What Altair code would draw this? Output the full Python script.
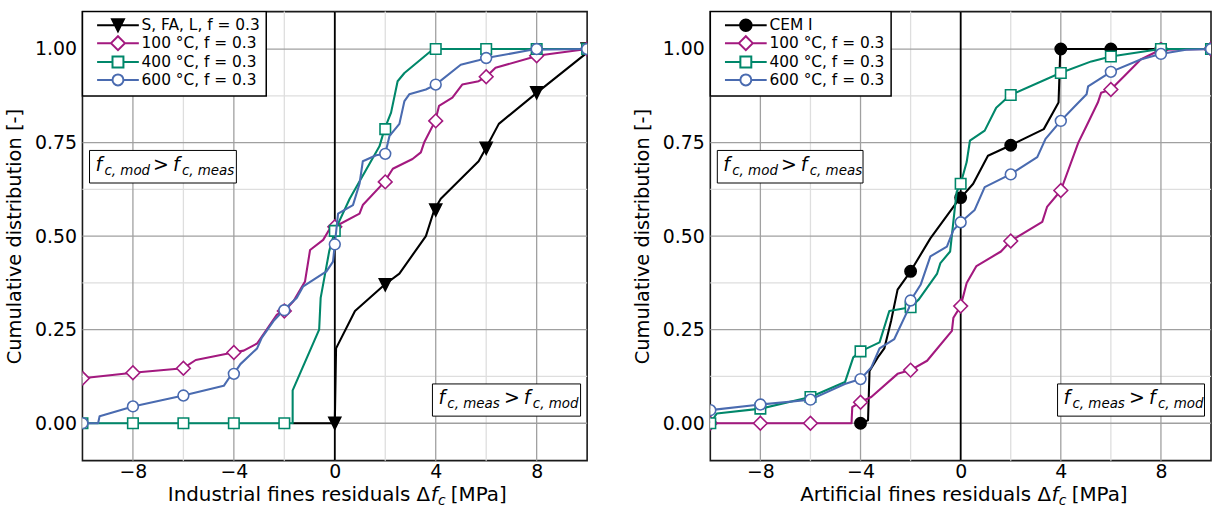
import altair as alt
import pandas as pd

# ---------------- data ----------------
LEFT_NAMES = ["S, FA, L, f = 0.3", "100 °C, f = 0.3", "400 °C, f = 0.3", "600 °C, f = 0.3"]
RIGHT_NAMES = ["CEM I", "100 °C, f = 0.3", "400 °C, f = 0.3", "600 °C, f = 0.3"]

# left panel (industrial fines)
L_black_x = [-1.67, 0.0, 0.05, 0.8, 1.97, 2.56, 3.61, 3.94, 4.2, 5.7, 5.97, 6.5, 8.0, 9.9, 10.0]
L_black_y = [0.0, 0.0, 0.2, 0.3, 0.37, 0.40, 0.50, 0.57, 0.60, 0.70, 0.733, 0.80, 0.883, 0.985, 1.0]
L_black_mx = [0, 2, 4, 6, 8, 10]
L_black_my = [0.0, 0.37, 0.57, 0.735, 0.883, 1.0]

L_mag_x = [-10, -8, -6, -5.51, -4.03, -3.61, -3.08, -2.3, -2.0, -1.64, -1.18, -0.98, -0.46, -0.2, 0.0,
           0.98, 1.11, 1.97, 2.3, 3.08, 3.41, 3.54, 3.98, 4.13, 4.66, 5.05, 5.7, 6.0, 6.37, 7.94, 8.0, 10.0]
L_mag_y = [0.12, 0.135, 0.147, 0.169, 0.189, 0.194, 0.213, 0.29, 0.30, 0.326, 0.379, 0.463, 0.49, 0.52, 0.525,
           0.56, 0.583, 0.645, 0.68, 0.706, 0.724, 0.75, 0.808, 0.848, 0.87, 0.905, 0.914, 0.926, 0.95, 0.98, 0.982, 1.0]
L_mag_mx = [-10, -8, -6, -4, -2, 0, 2, 4, 6, 8, 10]
L_mag_my = [0.12, 0.135, 0.147, 0.189, 0.30, 0.525, 0.645, 0.808, 0.926, 0.982, 1.0]

L_grn_x = [-10, -1.67, -1.67, -0.62, -0.56, -0.22, 0.0, 0.59, 1.77, 1.97, 2.23, 2.49, 2.76, 3.87, 4.0, 10.0]
L_grn_y = [0.0, 0.0, 0.088, 0.25, 0.335, 0.46, 0.514, 0.60, 0.74, 0.786, 0.83, 0.914, 0.936, 0.998, 1.0, 1.0]
L_grn_mx = [-10, -8, -6, -4, -2, 0, 2, 4, 6, 8, 10]
L_grn_my = [0.0, 0.0, 0.0, 0.0, 0.0, 0.514, 0.786, 1.0, 1.0, 1.0, 1.0]

L_blu_x = [-10, -9.38, -9.32, -8, -6, -4.4, -4.13, -4.0, -3.74, -3.08, -2.89, -2.43, -2.03, -1.51, -1.25, -0.33,
           -0.07, 0.0, 0.13, 0.72, 0.98, 1.11, 1.64, 2.0, 2.17, 2.56, 2.76, 2.95, 3.61, 4.0, 4.99, 5.7, 6.0, 7.8, 10.0]
L_blu_y = [0.0, 0.0, 0.019, 0.045, 0.074, 0.10, 0.127, 0.132, 0.158, 0.20, 0.229, 0.273, 0.302, 0.335, 0.366, 0.406,
           0.432, 0.478, 0.56, 0.583, 0.64, 0.70, 0.716, 0.72, 0.768, 0.80, 0.861, 0.879, 0.892, 0.905, 0.958, 0.97, 0.976, 0.998, 1.0]
L_blu_mx = [-10, -8, -6, -4, -2, 0, 2, 4, 6, 8, 10]
L_blu_my = [0.0, 0.045, 0.074, 0.132, 0.302, 0.478, 0.72, 0.905, 0.976, 1.0, 1.0]

# right panel (artificial fines)
R_black_x = [-4.2, -4.0, -3.7, -3.64, -3.31, -3.05, -2.78, -2.52, -2.0, -1.21, -0.16, 0.04, 0.5, 1.09, 2.0, 3.32, 3.91, 3.98, 4.0, 10.0]
R_black_y = [0.0, 0.0, 0.008, 0.14, 0.176, 0.20, 0.273, 0.357, 0.406, 0.494, 0.59, 0.605, 0.64, 0.715, 0.743, 0.786, 0.857, 0.998, 1.0, 1.0]
R_black_mx = [-4, -2, 0, 2, 4, 6, 8, 10]
R_black_my = [0.0, 0.406, 0.603, 0.743, 1.0, 1.0, 1.0, 1.0]

R_mag_x = [-10, -8, -6, -4.36, -4.33, -4.03, -3.57, -2.52, -2.0, -1.34, -0.35, -0.29, 0.0, 0.24, 0.63, 1.61, 2.0,
           3.26, 3.45, 4.0, 4.70, 5.03, 5.48, 5.61, 6.0, 6.54, 7.19, 7.98, 10.0]
R_mag_y = [0.0, 0.0, 0.0, 0.0, 0.043, 0.056, 0.07, 0.132, 0.142, 0.167, 0.247, 0.282, 0.313, 0.375, 0.42, 0.459, 0.487,
           0.538, 0.578, 0.622, 0.75, 0.795, 0.857, 0.883, 0.892, 0.928, 0.972, 0.998, 1.0]
R_mag_mx = [-10, -8, -6, -4, -2, 0, 2, 4, 6, 8, 10]
R_mag_my = [0.0, 0.0, 0.0, 0.056, 0.142, 0.313, 0.487, 0.622, 0.892, 0.998, 1.0]

R_grn_x = [-10, -9.74, -7.98, -6.0, -4.62, -4.29, -4.0, -3.24, -2.85, -2.0, -1.67, -0.94, -0.81, -0.42, -0.22, -0.16,
           0.0, 0.24, 0.37, 0.96, 1.42, 1.98, 3.98, 5.22, 6.0, 7.98, 10.0]
R_grn_y = [0.0, 0.026, 0.039, 0.07, 0.11, 0.176, 0.192, 0.216, 0.30, 0.31, 0.331, 0.40, 0.428, 0.459, 0.583, 0.618,
           0.64, 0.698, 0.755, 0.782, 0.843, 0.877, 0.936, 0.967, 0.98, 1.0, 1.0]
R_grn_mx = [-10, -8, -6, -4, -2, 0, 2, 4, 6, 8, 10]
R_grn_my = [0.0, 0.039, 0.07, 0.192, 0.31, 0.64, 0.877, 0.936, 0.98, 1.0, 1.0]

R_blu_x = [-10, -8, -6, -4.63, -4.0, -3.57, -3.24, -2.65, -2.06, -2.0, -1.6, -1.21, -0.55, -0.29, 0.0, 0.56, 0.96,
           1.98, 3.06, 3.39, 4.0, 4.57, 5.03, 5.09, 6.0, 7.19, 7.98, 9.0, 10.0]
R_blu_y = [0.035, 0.05, 0.063, 0.105, 0.118, 0.149, 0.20, 0.225, 0.309, 0.328, 0.37, 0.446, 0.472, 0.516, 0.537, 0.57, 0.631,
           0.665, 0.711, 0.76, 0.808, 0.848, 0.879, 0.90, 0.939, 0.972, 0.987, 0.998, 1.0]
R_blu_mx = [-10, -8, -6, -4, -2, 0, 2, 4, 6, 8, 10]
R_blu_my = [0.035, 0.05, 0.063, 0.118, 0.328, 0.537, 0.665, 0.808, 0.939, 0.987, 1.0]

X_TICKS = [-8, -4, 0, 4, 8]
Y_TICKS = [0.0, 0.25, 0.5, 0.75, 1.0]
X_MINOR = [-6, -2, 2, 6]
Y_MINOR = [0.125, 0.375, 0.625, 0.875]
ZERO_X = [0]

# annotation boxes (data coords): [top-left box, bottom-right box]
ANN_X1 = [-9.72, 3.87]
ANN_X2 = [-3.9, 9.74]
ANN_Y1 = [0.642, 0.019]
ANN_Y2 = [0.729, 0.105]

# ---------------- style ----------------
BLACK = "#000000"
MAGENTA = "#A3197F"
GREEN = "#00876A"
BLUE = "#4A6BB0"
COLORS = [BLACK, MAGENTA, GREEN, BLUE]
FONT = "DejaVu Sans"

TRI = "M-1,-1L1,-1L0,1Z"
L_SHAPES = [(TRI, 144, BLACK), ("diamond", 190, "white"), ("square", 112, "white"), ("circle", 118, "white")]
R_SHAPES = [("circle", 130, BLACK), ("diamond", 190, "white"), ("square", 112, "white"), ("circle", 118, "white")]


def seg(a):
    return "M-21,0L{:.2f},0M{:.2f},0L21,0".format(-a, a)


def tri(k, cy=-2.3):
    # triangle-down scaled by k about its incentre
    pts = [(-6, -6), (6, -6), (0, 6)]
    p = [(x * k, cy + (y - cy) * k) for x, y in pts]
    return "M{:.2f},{:.2f}L{:.2f},{:.2f}L{:.2f},{:.2f}Z".format(*p[0], *p[1], *p[2])


def circ(r):
    return "M{0:.2f},0A{1:.2f},{1:.2f},0,1,1,{1:.2f},0A{1:.2f},{1:.2f},0,1,1,{0:.2f},0Z".format(-r, r)


# legend symbols: line segment + marker (solid markers drawn as nested outlines)
P_TRI_SOLID = seg(3) + "".join(tri(k) for k in (1.0, 0.72, 0.45, 0.18))
P_DIA = seg(7) + "M-7,0L0,-7L7,0L0,7Z"
P_SQ = seg(5.5) + "M-5.5,-5.5H5.5V5.5H-5.5Z"
P_CIR = seg(5.5) + circ(5.5)
P_CIR_SOLID = seg(5.8) + "".join(circ(r) for r in (5.8, 4.2, 2.6, 1.0))
L_LEG_PATHS = [P_TRI_SOLID, P_DIA, P_SQ, P_CIR]
R_LEG_PATHS = [P_CIR_SOLID, P_DIA, P_SQ, P_CIR]

W_L = 508
W_R = 504
H = 452
TITLE_FS = 20


def make_panel(names, shapes, leg_paths, series, title_left, title_anchor, width):
    X = alt.X("x:Q", scale=alt.Scale(domain=[-10, 10], nice=False, zero=False),
              axis=alt.Axis(values=X_TICKS, grid=False, ticks=False, domain=False, title=None,
                            labelFontSize=19, labelFont=FONT, labelColor="black", labelPadding=2))
    Y = alt.Y("y:Q", scale=alt.Scale(domain=[-0.1, 1.1], nice=False, zero=False),
              axis=alt.Axis(values=Y_TICKS, format=".2f", grid=False, ticks=False, domain=False,
                            title="Cumulative distribution [-]", titleFontSize=19.5, titleFont=FONT,
                            titleFontWeight="normal", titleColor="black", titlePadding=10,
                            labelFontSize=19, labelFont=FONT, labelColor="black", labelPadding=6))

    layers = []
    layers.append(alt.Chart(pd.DataFrame({"x": X_MINOR})).mark_rule(color="#dedede", strokeWidth=1.3).encode(x=X))
    layers.append(alt.Chart(pd.DataFrame({"y": Y_MINOR})).mark_rule(color="#dedede", strokeWidth=1.3).encode(y=Y))
    layers.append(alt.Chart(pd.DataFrame({"x": X_TICKS})).mark_rule(color="#a0a0a0", strokeWidth=1.3).encode(x=X))
    layers.append(alt.Chart(pd.DataFrame({"y": Y_TICKS})).mark_rule(color="#a0a0a0", strokeWidth=1.3).encode(y=Y))
    layers.append(alt.Chart(pd.DataFrame({"x": ZERO_X})).mark_rule(color="black", strokeWidth=1.8).encode(x=X))

    for (lx, ly, mx, my), color, (shape, size, fill) in zip(series, COLORS, shapes):
        ldf = pd.DataFrame({"x": lx, "y": ly, "i": list(range(len(lx)))})
        mdf = pd.DataFrame({"x": mx, "y": my})
        layers.append(alt.Chart(ldf).mark_line(color=color, strokeWidth=2.1, clip=True, strokeJoin="round")
                      .encode(x=X, y=Y, order="i:Q"))
        layers.append(alt.Chart(mdf).mark_point(shape=shape, size=size, filled=True, fill=fill, stroke=color,
                                                strokeWidth=1.6, opacity=1, clip=True)
                      .encode(x=X, y=Y))

    # annotation boxes
    adf = pd.DataFrame({"x1": ANN_X1, "x2": ANN_X2, "y1": ANN_Y1, "y2": ANN_Y2})
    adf["yc"] = (adf["y1"] + adf["y2"]) / 2
    layers.append(alt.Chart(adf).mark_rect(fill="white", stroke="black", strokeWidth=1)
                  .encode(x="x1:Q", x2="x2:Q", y="y1:Q", y2="y2:Q"))
    pieces = [
        # (box index, text, dx, dy, size, italic)
        (0, "f", 6, 4, 19, True), (0, "c, mod", 15, 8, 13.5, True), (0, ">", 64, 4, 19, False),
        (0, "f", 84, 4, 19, True), (0, "c, meas", 93, 8, 13.5, True),
        (1, "f", 6, 4, 19, True), (1, "c, meas", 15, 8, 13.5, True), (1, ">", 72, 4, 19, False),
        (1, "f", 92, 4, 19, True), (1, "c, mod", 101, 8, 13.5, True),
    ]
    for bi, txt, dx, dy, fs, it in pieces:
        row = adf.iloc[[bi]].assign(t=txt)
        layers.append(alt.Chart(row).mark_text(align="left", baseline="alphabetic", dx=dx, dy=dy, fontSize=fs,
                                               font=FONT, fontStyle="italic" if it else "normal", color="black")
                      .encode(x="x1:Q", y="yc:Q", text="t:N"))

    # x-axis title built from pieces (to get italic f with subscript c)
    ty = H + 41
    tparts = [(title_left, title_anchor, 0, TITLE_FS, "normal", "right"),
              ("f", title_anchor + 0.5, 0, TITLE_FS, "italic", "left"),
              ("c", title_anchor + 7.8, 4, 14, "italic", "left"),
              ("[MPa]", title_anchor + 20.8, 0, TITLE_FS, "normal", "left")]
    for txt, px, dy, fs, st, al in tparts:
        layers.append(alt.Chart(pd.DataFrame({"t": [txt]})).mark_text(
            align=al, baseline="alphabetic", fontSize=fs, font=FONT, fontStyle=st, color="black", dy=dy)
            .encode(x=alt.value(px), y=alt.value(ty), text="t:N"))

    # legend layer (invisible marks; legend built through scales)
    leg = alt.Legend(title=None, orient="top-left", offset=0, padding=6, symbolSize=4, symbolStrokeWidth=2,
                     symbolOffset=22, labelOffset=16, labelFontSize=15.5, labelFont=FONT, labelColor="black",
                     rowPadding=-4.5, strokeColor="black", fillColor="white", cornerRadius=0)
    ldf = pd.DataFrame({"series": names, "x": [0] * len(names), "y": [0] * len(names)})
    layers.append(alt.Chart(ldf).mark_point(opacity=0).encode(
        x=X, y=Y,
        shape=alt.Shape("series:N", scale=alt.Scale(domain=names, range=leg_paths), legend=leg),
        stroke=alt.Stroke("series:N", scale=alt.Scale(domain=names, range=COLORS), legend=leg),
    ))
    return alt.layer(*layers).properties(width=width, height=H)


left_series = [(L_black_x, L_black_y, L_black_mx, L_black_my), (L_mag_x, L_mag_y, L_mag_mx, L_mag_my),
               (L_grn_x, L_grn_y, L_grn_mx, L_grn_my), (L_blu_x, L_blu_y, L_blu_mx, L_blu_my)]
right_series = [(R_black_x, R_black_y, R_black_mx, R_black_my), (R_mag_x, R_mag_y, R_mag_mx, R_mag_my),
                (R_grn_x, R_grn_y, R_grn_mx, R_grn_my), (R_blu_x, R_blu_y, R_blu_mx, R_blu_my)]

left = make_panel(LEFT_NAMES, L_SHAPES, L_LEG_PATHS, left_series,
                  "Industrial fines residuals Δ", 350, W_L)
right = make_panel(RIGHT_NAMES, R_SHAPES, R_LEG_PATHS, right_series,
                   "Artificial fines residuals Δ", 343, W_R)

chart = alt.hconcat(left, right, spacing=42).resolve_scale(
    shape="independent", stroke="independent"
).resolve_legend(shape="independent", stroke="independent").properties(
    padding={"left": 3, "top": 8, "right": 0, "bottom": 4}
).configure_view(stroke="#1a1a1a", strokeWidth=1.6).configure_legend(strokeWidth=1.5)

chart.save("out.html", embed_options={"renderer": "svg", "actions": False})
